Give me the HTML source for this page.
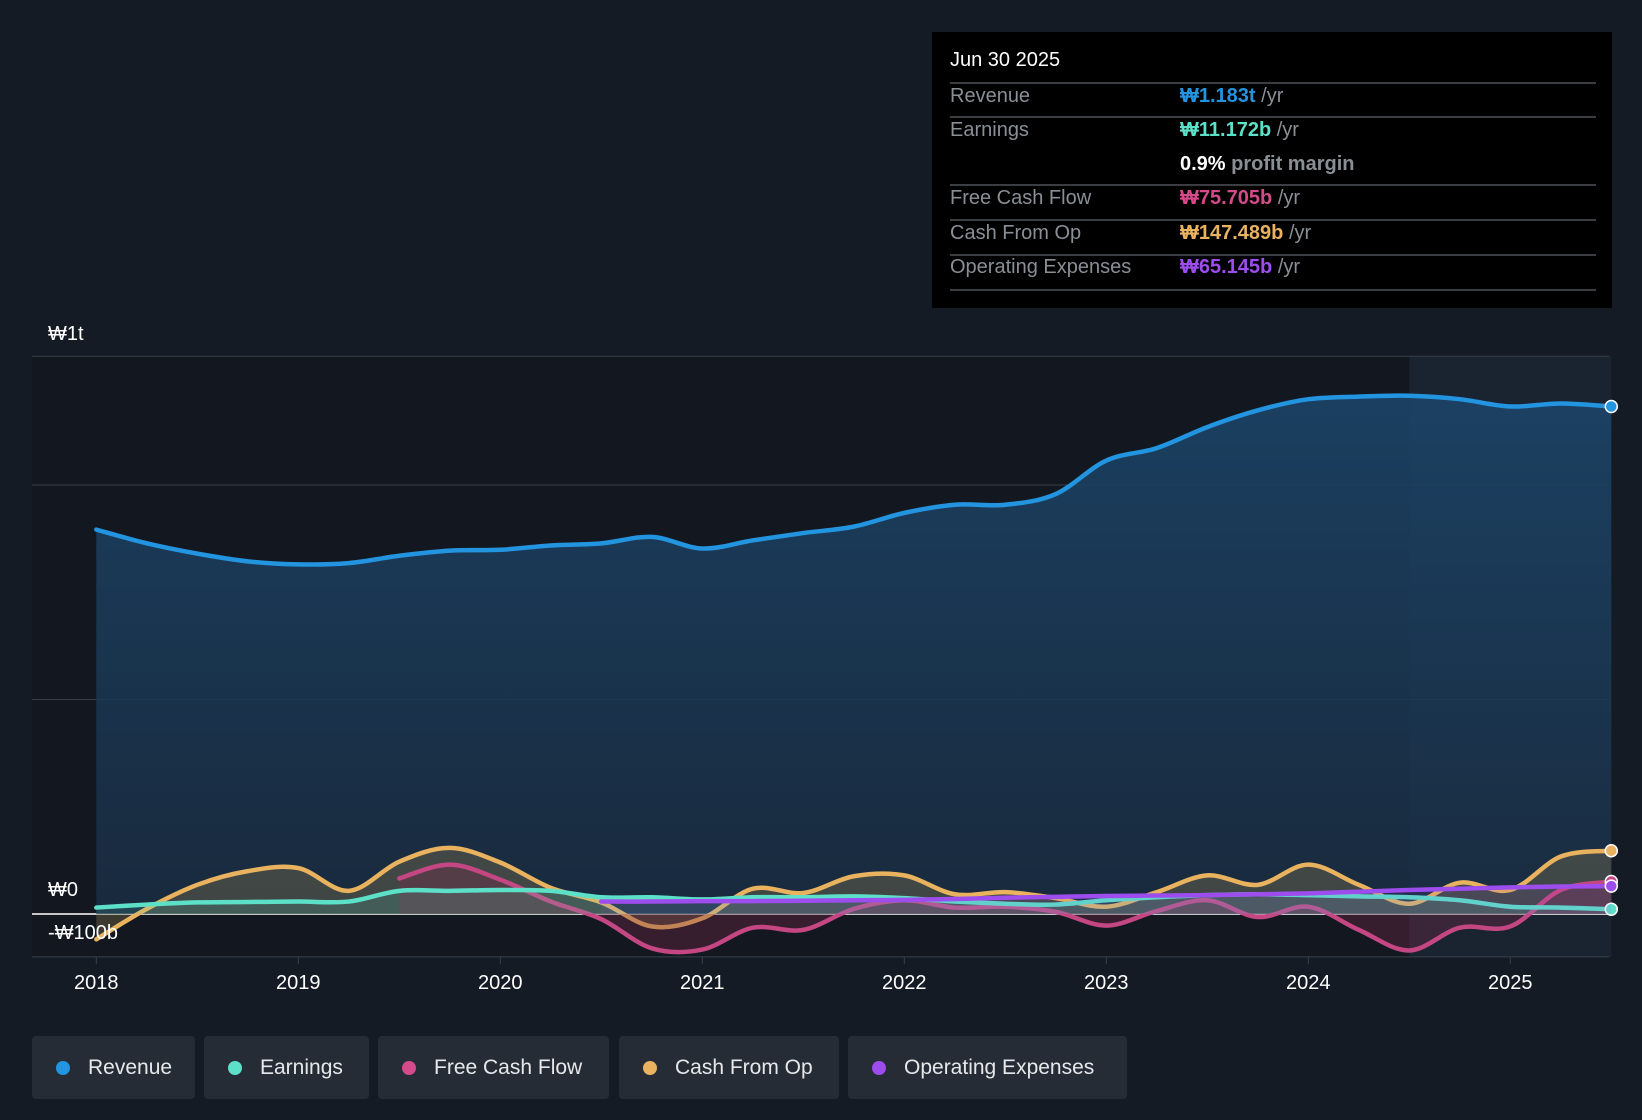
<!DOCTYPE html>
<html><head><meta charset="utf-8"><style>
body{margin:0;background:#151b24;width:1642px;height:1120px;overflow:hidden;font-family:"Liberation Sans",sans-serif;}
#tip{position:absolute;left:932px;top:32px;width:680px;height:276px;background:#000;}
.t{position:absolute;font-size:20px;color:#8a8f96;white-space:nowrap;}
.sep{position:absolute;left:18px;width:646px;height:2px;background:#3a3d42;}
.leg{position:absolute;top:1036px;height:63px;background:#262c36;border-radius:4px;color:#e6e8ea;font-size:21px;line-height:63px;}
.leg i{position:absolute;left:24px;top:25px;width:14px;height:14px;border-radius:50%;}
.leg span{position:absolute;left:56px;}
</style></head><body>
<svg id="c" width="1642" height="1120" style="position:absolute;left:0;top:0"></svg>
<div id="tip">
<div class="t" style="left:18px;top:17px;color:#fff">Jun 30 2025</div>
<div class="sep" style="top:50px"></div>
<div class="t" style="left:18px;top:53px">Revenue</div>
<div class="t" style="left:248px;top:53px"><b style="color:#2394df">₩1.183t</b> /yr</div>
<div class="sep" style="top:84px"></div>
<div class="t" style="left:18px;top:87px">Earnings</div>
<div class="t" style="left:248px;top:87px"><b style="color:#5de0c8">₩11.172b</b> /yr</div>
<div class="t" style="left:248px;top:121px"><b style="color:#fff">0.9%</b> <b>profit margin</b></div>
<div class="sep" style="top:152px"></div>
<div class="t" style="left:18px;top:155px">Free Cash Flow</div>
<div class="t" style="left:248px;top:155px"><b style="color:#d34b8a">₩75.705b</b> /yr</div>
<div class="sep" style="top:187px"></div>
<div class="t" style="left:18px;top:190px">Cash From Op</div>
<div class="t" style="left:248px;top:190px"><b style="color:#e8b25e">₩147.489b</b> /yr</div>
<div class="sep" style="top:222px"></div>
<div class="t" style="left:18px;top:224px">Operating Expenses</div>
<div class="t" style="left:248px;top:224px"><b style="color:#9d4ded">₩65.145b</b> /yr</div>
<div class="sep" style="top:257px"></div>
</div>
<div class="leg" style="left:32px;width:163px"><i style="background:#2394df"></i><span>Revenue</span></div>
<div class="leg" style="left:204px;width:165px"><i style="background:#5de0c8"></i><span>Earnings</span></div>
<div class="leg" style="left:378px;width:231px"><i style="background:#d34b8a"></i><span>Free Cash Flow</span></div>
<div class="leg" style="left:619px;width:220px"><i style="background:#e8b25e"></i><span>Cash From Op</span></div>
<div class="leg" style="left:848px;width:279px"><i style="background:#9d4ded"></i><span>Operating Expenses</span></div>
<script>
// quarterly dates from 2018.0 to 2025.5, values in billions KRW
const dates = [];
for (let i = 0; i <= 30; i++) dates.push(2018 + i * 0.25);
const revenue = [896,864,840,822,815,818,835,847,849,859,864,879,852,871,888,903,935,954,954,979,1057,1086,1135,1174,1200,1206,1208,1200,1183,1190,1183];
const earnings = [15,22,27,28,29,29,54,54,56,54,39,39,34,39,39,41,37,29,24,22,32,39,44,46,44,41,39,32,17,15,11.2];
const fcf = [null,null,null,null,null,null,83,115,80,29,-12,-80,-83,-32,-37,12,32,15,17,5,-27,7,32,-7,17,-37,-85,-32,-29,56,75.7];
const cfo = [-59,12,68,100,107,54,122,154,120,61,27,-29,-10,59,49,88,90,46,51,37,17,51,90,68,115,68,24,73,56,134,147.5];
const opex = [null,null,null,null,null,null,null,null,null,null,29,29,30,30,31,32,33,35,38,40,42,43,44,46,48,52,56,59,62,64,65.1];
const yTicks = [1300, 1000, 500, 0, -100];
const yLabels = ["₩1t", "₩0", "-₩100b"];
const xTicks = [2018,2019,2020,2021,2022,2023,2024,2025];

const svg = document.getElementById('c');
const NS = 'http://www.w3.org/2000/svg';
const X = d => 96.3 + (d - 2018) * 202;
const Y = v => 914 - v * 0.429;
function mk(tag, attrs, parent) {
  const e = document.createElementNS(NS, tag);
  for (const k in attrs) e.setAttribute(k, attrs[k]);
  (parent || svg).appendChild(e);
  return e;
}
svg.innerHTML = '<defs><linearGradient id="rg" x1="0" y1="0" x2="0" y2="1"><stop offset="0" stop-color="#1b4468" stop-opacity="0.9"/><stop offset="1" stop-color="#1a2e44" stop-opacity="0.8"/></linearGradient></defs>';
// plot background
let bg = mk('rect', {x: 32, y: Y(yTicks[0]), width: 1577, height: Y(yTicks[4]) - Y(yTicks[0]), fill: '#131820'});


let hl = mk('rect', {x: X(2024.5), y: Y(yTicks[0]), width: X(2025.5) - X(2024.5), height: Y(yTicks[4]) - Y(yTicks[0]), fill: '#1a2330'});


// gridlines
yTicks.forEach(v => {
  const g = mk('line', {x1: 32, x2: 1609, y1: Y(v), y2: Y(v), stroke: v === 0 ? '#ffffff' : '#3a4049', 'stroke-width': v === 0 ? 1.5 : 1});
  
  
});

function pts(arr) { const p = []; arr.forEach((v, i) => { if (v !== null) p.push([X(dates[i]), Y(v)]); }); return p; }
function path(p) {
  let d = 'M' + p[0][0] + ',' + p[0][1];
  for (let i = 0; i < p.length - 1; i++) {
    const p0 = p[i - 1] || p[i], p1 = p[i], p2 = p[i + 1], p3 = p[i + 2] || p2;
    const c1x = p1[0] + (p2[0] - p0[0]) / 6, c1y = p1[1] + (p2[1] - p0[1]) / 6;
    const c2x = p2[0] - (p3[0] - p1[0]) / 6, c2y = p2[1] - (p3[1] - p1[1]) / 6;
    d += ' C' + c1x + ',' + c1y + ' ' + c2x + ',' + c2y + ' ' + p2[0] + ',' + p2[1];
  }
  return d;
}
function series(arr, color, fill, fop, name) {
  const p = pts(arr);
  const d = path(p);
  const a = mk('path', {d: d + ' L' + p[p.length-1][0] + ',' + Y(0) + ' L' + p[0][0] + ',' + Y(0) + ' Z', fill: fill, 'fill-opacity': fop});
  
  
  const l = mk('path', {d: d, fill: 'none', stroke: color, 'stroke-width': 4.5, 'stroke-linecap': 'round'});
  
  
  const last = p[p.length - 1];
  const c = mk('circle', {cx: last[0], cy: last[1], r: 6, fill: color, stroke: '#fff', 'stroke-width': 1.5});
  
  
}
series(revenue, '#2394df', 'url(#rg)', 1, 'revenue');
series(cfo, '#e8b25e', '#8a7a50', 0.35, 'cash-from-op');
series(fcf, '#c44783', '#7a2a4a', 0.35, 'free-cash-flow');
series(earnings, '#5de0c8', '#5de0c8', 0.15, 'earnings');
series(opex, '#9d4ded', '#9d4ded', 0.1, 'operating-expenses');

// y labels
[[yTicks[0], yLabels[0], 333], [0, yLabels[1], 889], [-100, yLabels[2], 932]].forEach(([v, t, y]) => {
  const e = mk('text', {x: 48, y: y + 7, fill: '#fff', 'font-size': 20, 'font-family': 'Liberation Sans, sans-serif'});
  e.textContent = t;
  
  
});
xTicks.forEach(yr => {
  mk('line', {x1: X(yr), x2: X(yr), y1: Y(-100), y2: Y(-100) + 7, stroke: '#3a4049'});
  const e = mk('text', {x: X(yr), y: 989, fill: '#fff', 'font-size': 20, 'text-anchor': 'middle', 'font-family': 'Liberation Sans, sans-serif'});
  e.textContent = yr;
  
  
});
</script>
</body></html>
